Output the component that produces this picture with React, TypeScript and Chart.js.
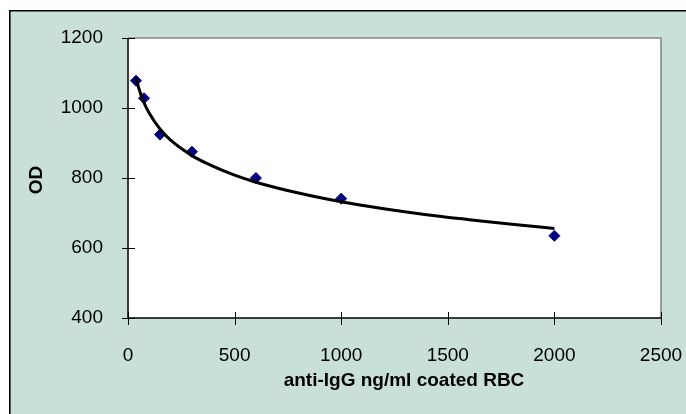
import React, { useEffect, useRef } from "react";
import { Chart, registerables } from "chart.js";

Chart.register(...registerables);

// Measured data (anti-IgG ng/ml coated RBC vs OD)
const concentrations = [37.5, 75, 150, 300, 600, 1000, 2000];
const odValues = [1078, 1028, 924, 875, 800, 741, 635];

// Trendline
const trendX = [37.5, 50, 75, 100, 150, 200, 300, 400, 500, 600, 800, 1000, 1200, 1400, 1600, 1800, 2000];
const trendY = [1086, 1058, 1015, 985, 940, 908, 864, 833, 808, 788, 757, 732, 712, 695, 681, 668, 656];

const xMin = 0;
const xMax = 2500;
const xStep = 500;
const yMin = 400;
const yMax = 1200;
const yStep = 200;

const xTitle = "anti-IgG ng/ml coated RBC";
const yTitle = "OD";

const FONT = "'Liberation Sans', Arial, sans-serif";
const BG = "#C8E0D8";

export default function App() {
  const ref = useRef<HTMLCanvasElement | null>(null);

  useEffect(() => {
    const canvas = ref.current;
    if (!canvas) return;

    const framePlugin = {
      id: "frame",
      beforeDraw(chart: any) {
        const { ctx, chartArea } = chart;
        ctx.save();
        ctx.fillStyle = "#ffffff";
        ctx.fillRect(0, 0, chart.width, chart.height);
        ctx.fillStyle = BG;
        ctx.fillRect(9, 10, chart.width - 9, chart.height - 10);
        ctx.strokeStyle = "#000000";
        ctx.lineWidth = 1.6;
        ctx.beginPath();
        ctx.moveTo(9.8, chart.height);
        ctx.lineTo(9.8, 10.8);
        ctx.lineTo(chart.width, 10.8);
        ctx.stroke();
        ctx.fillStyle = "#ffffff";
        ctx.fillRect(chartArea.left, chartArea.top, chartArea.right - chartArea.left, chartArea.bottom - chartArea.top);
        ctx.restore();
      },
      afterDraw(chart: any) {
        const { ctx, chartArea } = chart;
        const xs = chart.scales.x;
        const ys = chart.scales.y;
        const L = chartArea.left, R = chartArea.right, T = chartArea.top, B = chartArea.bottom;
        ctx.save();
        // gray plot border (top, right)
        ctx.strokeStyle = "#888888";
        ctx.lineWidth = 1.6;
        ctx.beginPath();
        ctx.moveTo(L, T);
        ctx.lineTo(R, T);
        ctx.lineTo(R, B);
        ctx.stroke();
        // axes
        ctx.strokeStyle = "#000000";
        ctx.lineWidth = 1.5;
        ctx.beginPath();
        ctx.moveTo(L, T);
        ctx.lineTo(L, B);
        ctx.lineTo(R, B);
        ctx.stroke();
        // tick marks (crossing)
        ctx.lineWidth = 1;
        ctx.beginPath();
        xs.ticks.forEach((t: any) => {
          const px = Math.round(xs.getPixelForValue(t.value)) + 0.5;
          ctx.moveTo(px, B - 6);
          ctx.lineTo(px, B + 7);
        });
        ys.ticks.forEach((t: any) => {
          const py = Math.round(ys.getPixelForValue(t.value)) + 0.5;
          ctx.moveTo(L - 6, py);
          ctx.lineTo(L + 7, py);
        });
        ctx.stroke();
        // axis titles
        ctx.fillStyle = "#000000";
        ctx.font = "bold 19px " + FONT;
        ctx.textAlign = "center";
        ctx.textBaseline = "middle";
        ctx.fillText(xTitle, 404, 381);
        ctx.translate(36.5, (T + B) / 2 + 2);
        ctx.rotate(-Math.PI / 2);
        ctx.fillText(yTitle, 0, 0);
        ctx.restore();
      },
    };

    const chart = new Chart(canvas, {
      type: "scatter",
      data: {
        datasets: [
          {
            type: "line",
            label: "Trend",
            data: trendX.map((x, i) => ({ x, y: trendY[i] })),
            borderColor: "#000000",
            borderWidth: 3,
            pointRadius: 0,
            fill: false,
            cubicInterpolationMode: "monotone",
            order: 0,
          },
          {
            type: "scatter",
            label: "OD",
            data: concentrations.map((x, i) => ({ x, y: odValues[i] })),
            pointStyle: "rectRot",
            pointRadius: 5.5,
            pointBackgroundColor: "#000080",
            pointBorderColor: "#000080",
            pointBorderWidth: 1,
            order: 1,
          },
        ],
      } as any,
      options: {
        animation: false,
        responsive: false,
        maintainAspectRatio: false,
        devicePixelRatio: 1,
        layout: { padding: { top: 38, right: 25, left: 0, bottom: 0 } },
        plugins: {
          legend: { display: false },
          tooltip: { enabled: false },
          title: { display: false },
        },
        scales: {
          x: {
            type: "linear",
            min: xMin,
            max: xMax,
            grid: { display: false },
            border: { display: false },
            ticks: {
              stepSize: xStep,
              autoSkip: false,
              maxRotation: 0,
              color: "#000000",
              font: { family: FONT, size: 19 },
              padding: 18,
              callback: (v: any) => String(v),
            },
            afterFit: (s: any) => {
              s.height = 96;
              s.paddingLeft = 0;
              s.paddingRight = 0;
            },
          },
          y: {
            type: "linear",
            min: yMin,
            max: yMax,
            grid: { display: false },
            border: { display: false },
            ticks: {
              stepSize: yStep,
              color: "#000000",
              font: { family: FONT, size: 19 },
              padding: 17,
              callback: (v: any) => String(v),
            },
            afterFit: (s: any) => {
              s.width = 128;
              s.paddingTop = 0;
              s.paddingBottom = 0;
            },
          },
        },
      } as any,
      plugins: [framePlugin],
    });

    return () => chart.destroy();
  }, []);

  return (
    <div style={{ position: "absolute", left: 0, top: 0, width: 686, height: 414 }}>
      <canvas ref={ref} width={686} height={414} style={{ width: 686, height: 414, display: "block" }} />
    </div>
  );
}
